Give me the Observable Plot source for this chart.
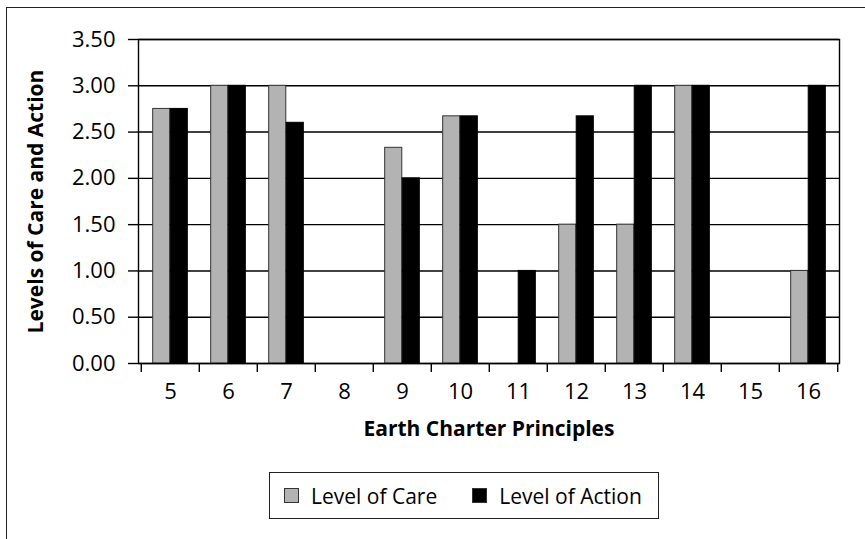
<!DOCTYPE html>
<html><head><meta charset="utf-8">
<script src="https://cdn.jsdelivr.net/npm/d3@7"></script>
<script src="https://cdn.jsdelivr.net/npm/@observablehq/plot@0.6"></script>
<style>
html,body{margin:0;padding:0;background:#fff;overflow:hidden}
#wrap{position:relative;width:865px;height:539px;overflow:hidden;font-family:"Open Sans",sans-serif;color:#000;background:#fff}
#outer{position:absolute;left:6px;top:7px;width:2000px;height:2000px;border-left:1.5px solid #222;border-top:1.5px solid #222}
#chart{position:absolute;left:0;top:0}
#legend{position:absolute;left:269px;top:472px;width:390px;height:47px;box-sizing:border-box;border:1.5px solid #222;display:flex;align-items:center;padding-left:14px;font-size:21px;white-space:nowrap;background:#fff}
.item{display:flex;align-items:center;margin-right:35px;flex:none}
.sw{width:15px;height:15px;box-sizing:border-box;border:1px solid #333;margin-right:12px;flex:none}
</style></head><body>
<div id="wrap"><div id="outer"></div><div id="chart"></div><div id="legend"></div></div>
<script>
const categories = ["5","6","7","8","9","10","11","12","13","14","15","16"];
const care   = [2.75, 3.00, 3.00, null, 2.33, 2.67, null, 1.50, 1.50, 3.00, null, 1.00];
const action = [2.75, 3.00, 2.60, null, 2.00, 2.67, 1.00, 2.67, 3.00, 3.00, null, 3.00];
const seriesNames = ["Level of Care", "Level of Action"];
const seriesColors = ["#b3b3b3", "#000000"];
const yTicks = [0, 0.5, 1, 1.5, 2, 2.5, 3, 3.5];
const xTitle = "Earth Charter Principles";
const yTitle = "Levels of Care and Action";

const W = 865, H = 460, mL = 138, mR = 26, mT = 39, mB = 97;
const bw = (W - mL - mR) / categories.length;

const careRows = categories.map((c, i) => ({cat: c, value: care[i]})).filter(d => d.value != null);
const actionRows = categories.map((c, i) => ({cat: c, value: action[i]})).filter(d => d.value != null);

const chart = Plot.plot({
  width: W, height: H,
  marginLeft: mL, marginRight: mR, marginTop: mT, marginBottom: mB,
  style: {fontFamily: "'Open Sans', sans-serif", background: "transparent", color: "#000"},
  x: {type: "band", domain: categories, padding: 0, label: null},
  y: {domain: [0, 3.5], label: null},
  marks: [
    Plot.ruleY(yTicks, {stroke: "#000", strokeWidth: 1.4}),
    Plot.barY(careRows, {x: "cat", y: "value", fill: seriesColors[0], stroke: "#333", strokeWidth: 1,
      insetLeft: bw * 0.2, insetRight: bw * 0.5}),
    Plot.barY(actionRows, {x: "cat", y: "value", fill: seriesColors[1], stroke: "#000", strokeWidth: 1,
      insetLeft: bw * 0.5, insetRight: bw * 0.2}),
    Plot.frame({stroke: "#000", strokeWidth: 1.4}),
    Plot.axisY(yTicks, {tickFormat: d3.format(".2f"), tickSize: 10, tickPadding: 13, fontSize: 22, strokeWidth: 1.4, label: null}),
    Plot.axisX({tickSize: 0, tickPadding: 20, fontSize: 22, label: null}),
    Plot.axisX(categories, {tickSize: 9, text: null, dx: -bw / 2, strokeWidth: 1.4, label: null}),
    Plot.axisX([categories[categories.length - 1]], {tickSize: 9, text: null, dx: bw / 2, strokeWidth: 1.4, label: null}),
    Plot.text([xTitle], {text: d => d, frameAnchor: "bottom", dy: 72, fontSize: 21, fontWeight: "bold"}),
    Plot.text([yTitle], {text: d => d, frameAnchor: "left", textAnchor: "middle", dx: -102, rotate: -90, fontSize: 21, fontWeight: "bold"})
  ]
});
document.getElementById("chart").appendChild(chart);

const legend = document.getElementById("legend");
seriesNames.forEach((name, i) => {
  const item = document.createElement("div");
  item.className = "item";
  const sw = document.createElement("div");
  sw.className = "sw";
  sw.style.background = seriesColors[i];
  const label = document.createElement("span");
  label.textContent = name;
  item.appendChild(sw);
  item.appendChild(label);
  legend.appendChild(item);
});
</script>
</body></html>
